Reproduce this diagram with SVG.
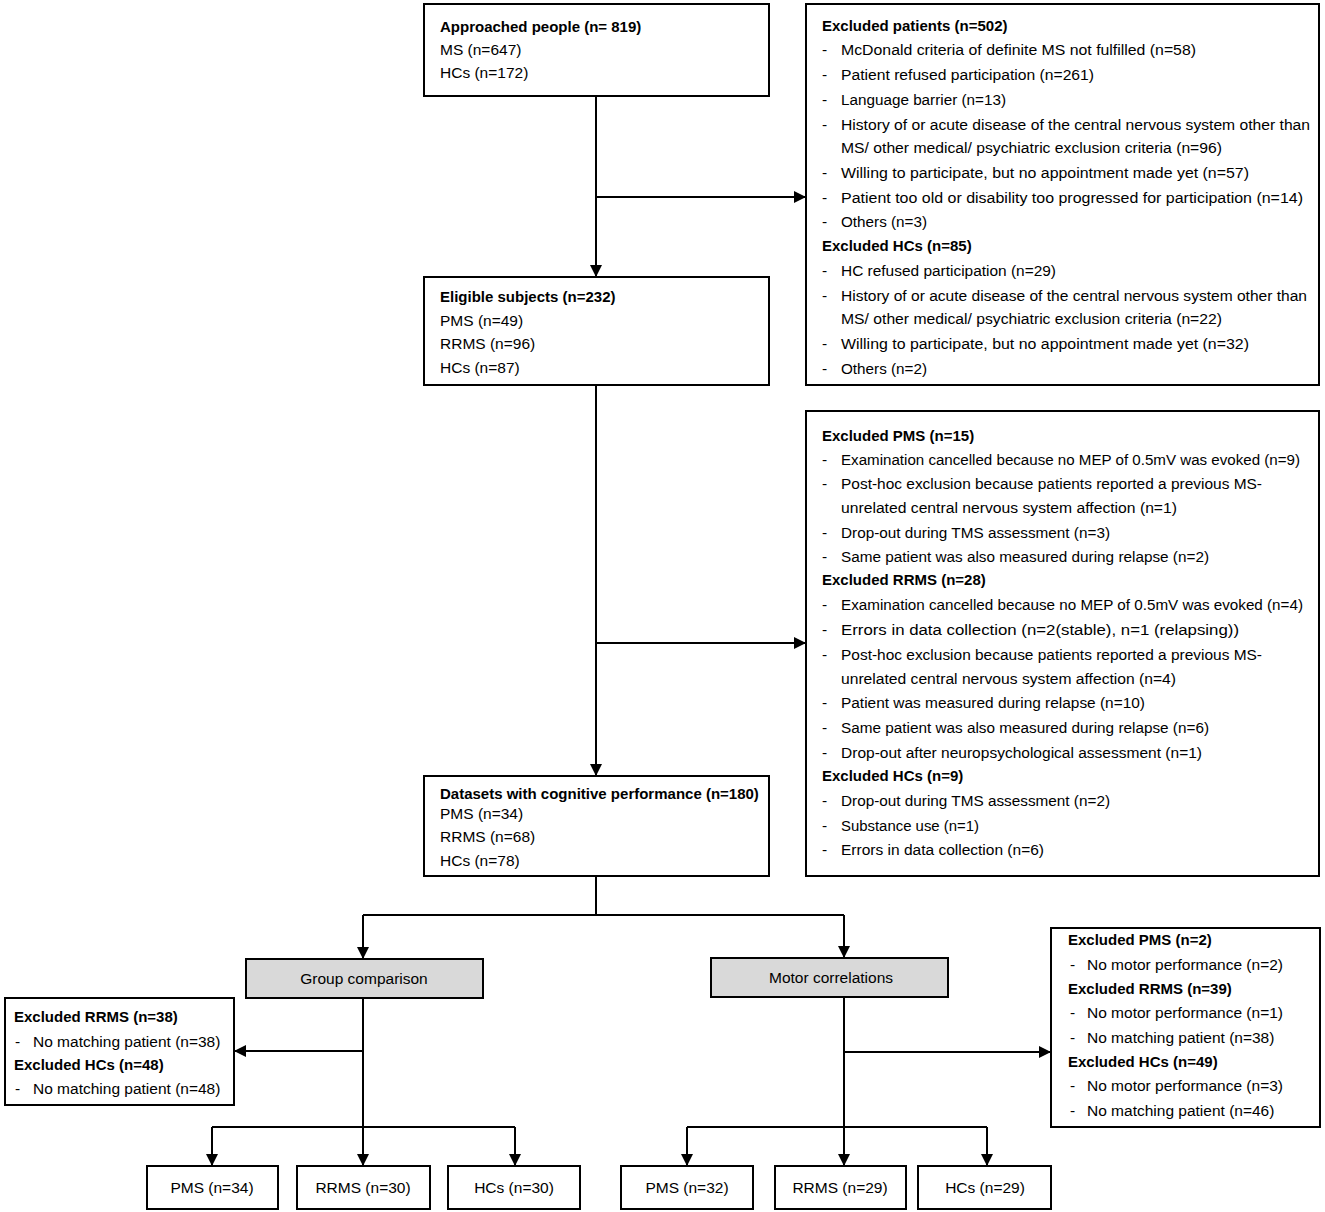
<svg xmlns="http://www.w3.org/2000/svg" width="1325" height="1212" viewBox="0 0 1325 1212">
<defs>
<marker id="ah" markerWidth="12" markerHeight="12" refX="11" refY="6" orient="auto" markerUnits="userSpaceOnUse">
<path d="M0,0 L12,6 L0,12 Z" fill="#000"/>
</marker>
<style>
.box{fill:#fff;stroke:#000;stroke-width:2}
.gbox{fill:#d9d9d9;stroke:#000;stroke-width:2}
.ln{fill:none;stroke:#000;stroke-width:2}
text{font-family:"Liberation Sans",Arial,sans-serif;font-size:15.5px;fill:#000}
.b{font-weight:bold;font-size:15px}
.c{text-anchor:middle}
</style>
</defs>
<rect width="1325" height="1212" fill="#fff"/>

<g id="connectors">
<path class="ln" d="M596,96 V276" marker-end="url(#ah)"/>
<path class="ln" d="M596,197 H805" marker-end="url(#ah)"/>
<path class="ln" d="M596,385 V775" marker-end="url(#ah)"/>
<path class="ln" d="M596,643 H805" marker-end="url(#ah)"/>
<path class="ln" d="M596,876 V915"/>
<path class="ln" d="M363,915 H844"/>
<path class="ln" d="M363,915 V958" marker-end="url(#ah)"/>
<path class="ln" d="M844,915 V957" marker-end="url(#ah)"/>
<path class="ln" d="M363,998 V1165" marker-end="url(#ah)"/>
<path class="ln" d="M363,1051 H235" marker-end="url(#ah)"/>
<path class="ln" d="M212,1127 H515"/>
<path class="ln" d="M212,1127 V1165" marker-end="url(#ah)"/>
<path class="ln" d="M515,1127 V1165" marker-end="url(#ah)"/>
<path class="ln" d="M844,997 V1165" marker-end="url(#ah)"/>
<path class="ln" d="M844,1052 H1050" marker-end="url(#ah)"/>
<path class="ln" d="M687,1127 H987"/>
<path class="ln" d="M687,1127 V1165" marker-end="url(#ah)"/>
<path class="ln" d="M987,1127 V1165" marker-end="url(#ah)"/>
</g>

<g id="approached">
<rect class="box" x="424" y="4" width="345" height="92"/>
<text class="b" x="440" y="32">Approached people (n= 819)</text>
<text x="440" y="55">MS (n=647)</text>
<text x="440" y="78">HCs (n=172)</text>
</g>

<g id="excluded-1">
<rect class="box" x="806" y="4" width="513" height="381"/>
<text class="b" x="822" y="31">Excluded patients (n=502)</text>
<text x="822" y="55">-</text><text x="841" y="55" textLength="355" lengthAdjust="spacingAndGlyphs">McDonald criteria of definite MS not fulfilled (n=58)</text>
<text x="822" y="80">-</text><text x="841" y="80" textLength="253" lengthAdjust="spacingAndGlyphs">Patient refused participation (n=261)</text>
<text x="822" y="105">-</text><text x="841" y="105" textLength="165" lengthAdjust="spacingAndGlyphs">Language barrier (n=13)</text>
<text x="822" y="130">-</text><text x="841" y="130" textLength="469" lengthAdjust="spacingAndGlyphs">History of or acute disease of the central nervous system  other than</text>
<text x="841" y="153" textLength="381" lengthAdjust="spacingAndGlyphs">MS/ other medical/ psychiatric exclusion  criteria (n=96)</text>
<text x="822" y="178">-</text><text x="841" y="178" textLength="408" lengthAdjust="spacingAndGlyphs">Willing to participate, but no appointment made yet (n=57)</text>
<text x="822" y="203">-</text><text x="841" y="203" textLength="462" lengthAdjust="spacingAndGlyphs">Patient too old or disability too progressed for participation  (n=14)</text>
<text x="822" y="227">-</text><text x="841" y="227" textLength="86" lengthAdjust="spacingAndGlyphs">Others (n=3)</text>
<text class="b" x="822" y="251">Excluded HCs (n=85)</text>
<text x="822" y="276">-</text><text x="841" y="276" textLength="215" lengthAdjust="spacingAndGlyphs">HC refused participation (n=29)</text>
<text x="822" y="301">-</text><text x="841" y="301" textLength="466" lengthAdjust="spacingAndGlyphs">History of or acute disease of the central nervous system other than</text>
<text x="841" y="324" textLength="381" lengthAdjust="spacingAndGlyphs">MS/ other medical/ psychiatric exclusion criteria (n=22)</text>
<text x="822" y="349">-</text><text x="841" y="349" textLength="408" lengthAdjust="spacingAndGlyphs">Willing to participate, but no appointment made yet (n=32)</text>
<text x="822" y="374">-</text><text x="841" y="374" textLength="86" lengthAdjust="spacingAndGlyphs">Others (n=2)</text>
</g>

<g id="eligible">
<rect class="box" x="424" y="277" width="345" height="108"/>
<text class="b" x="440" y="302">Eligible subjects (n=232)</text>
<text x="440" y="326">PMS (n=49)</text>
<text x="440" y="349">RRMS (n=96)</text>
<text x="440" y="373">HCs (n=87)</text>
</g>

<g id="excluded-2">
<rect class="box" x="806" y="411" width="513" height="465"/>
<text class="b" x="822" y="441">Excluded PMS (n=15)</text>
<text x="822" y="465">-</text><text x="841" y="465" textLength="459" lengthAdjust="spacingAndGlyphs">Examination cancelled because no MEP of 0.5mV was evoked (n=9)</text>
<text x="822" y="489">-</text><text x="841" y="489" textLength="421" lengthAdjust="spacingAndGlyphs">Post-hoc exclusion because patients reported a previous MS-</text>
<text x="841" y="513" textLength="336" lengthAdjust="spacingAndGlyphs">unrelated central nervous system affection (n=1)</text>
<text x="822" y="538">-</text><text x="841" y="538" textLength="269" lengthAdjust="spacingAndGlyphs">Drop-out during TMS assessment (n=3)</text>
<text x="822" y="562">-</text><text x="841" y="562" textLength="368" lengthAdjust="spacingAndGlyphs">Same patient was also measured during relapse (n=2)</text>
<text class="b" x="822" y="585">Excluded RRMS (n=28)</text>
<text x="822" y="610">-</text><text x="841" y="610" textLength="462" lengthAdjust="spacingAndGlyphs">Examination cancelled because no MEP of 0.5mV was evoked (n=4)</text>
<text x="822" y="635">-</text><text x="841" y="635" textLength="398" lengthAdjust="spacingAndGlyphs">Errors in data collection (n=2(stable), n=1 (relapsing))</text>
<text x="822" y="660">-</text><text x="841" y="660" textLength="421" lengthAdjust="spacingAndGlyphs">Post-hoc exclusion because patients reported a previous MS-</text>
<text x="841" y="684" textLength="335" lengthAdjust="spacingAndGlyphs">unrelated central nervous system affection (n=4)</text>
<text x="822" y="708">-</text><text x="841" y="708" textLength="304" lengthAdjust="spacingAndGlyphs">Patient was measured during relapse (n=10)</text>
<text x="822" y="733">-</text><text x="841" y="733" textLength="368" lengthAdjust="spacingAndGlyphs">Same patient was also measured during relapse (n=6)</text>
<text x="822" y="758">-</text><text x="841" y="758" textLength="361" lengthAdjust="spacingAndGlyphs">Drop-out after neuropsychological assessment (n=1)</text>
<text class="b" x="822" y="781">Excluded HCs (n=9)</text>
<text x="822" y="806">-</text><text x="841" y="806" textLength="269" lengthAdjust="spacingAndGlyphs">Drop-out during TMS assessment (n=2)</text>
<text x="822" y="831">-</text><text x="841" y="831" textLength="138" lengthAdjust="spacingAndGlyphs">Substance use (n=1)</text>
<text x="822" y="855">-</text><text x="841" y="855" textLength="203" lengthAdjust="spacingAndGlyphs">Errors in data collection (n=6)</text>
</g>

<g id="datasets">
<rect class="box" x="424" y="776" width="345" height="100"/>
<text class="b" x="440" y="799">Datasets with cognitive performance (n=180)</text>
<text x="440" y="819">PMS (n=34)</text>
<text x="440" y="842">RRMS (n=68)</text>
<text x="440" y="866">HCs (n=78)</text>
</g>

<g id="group-comparison">
<rect class="gbox" x="246" y="959" width="237" height="39"/>
<text class="c" x="364" y="984">Group comparison</text>
</g>

<g id="motor-correlations">
<rect class="gbox" x="711" y="958" width="237" height="39"/>
<text class="c" x="831" y="983">Motor correlations</text>
</g>

<g id="excluded-3">
<rect class="box" x="5" y="998" width="229" height="107"/>
<text class="b" x="14" y="1022">Excluded RRMS (n=38)</text>
<text x="15" y="1047">-</text><text x="33" y="1047">No matching patient (n=38)</text>
<text class="b" x="14" y="1070">Excluded HCs (n=48)</text>
<text x="15" y="1094">-</text><text x="33" y="1094">No matching patient (n=48)</text>
</g>

<g id="excluded-4">
<rect class="box" x="1051" y="928" width="269" height="199"/>
<text class="b" x="1068" y="945">Excluded PMS (n=2)</text>
<text x="1070" y="970">-</text><text x="1087" y="970">No motor performance (n=2)</text>
<text class="b" x="1068" y="994">Excluded RRMS (n=39)</text>
<text x="1070" y="1018">-</text><text x="1087" y="1018">No motor performance (n=1)</text>
<text x="1070" y="1043">-</text><text x="1087" y="1043">No matching patient (n=38)</text>
<text class="b" x="1068" y="1067">Excluded HCs (n=49)</text>
<text x="1070" y="1091">-</text><text x="1087" y="1091">No motor performance (n=3)</text>
<text x="1070" y="1116">-</text><text x="1087" y="1116">No matching patient (n=46)</text>
</g>

<g id="gc-pms"><rect class="box" x="147" y="1166" width="131" height="43"/><text class="c" x="212" y="1193">PMS (n=34)</text></g>
<g id="gc-rrms"><rect class="box" x="297" y="1166" width="133" height="43"/><text class="c" x="363" y="1193">RRMS (n=30)</text></g>
<g id="gc-hcs"><rect class="box" x="448" y="1166" width="132" height="43"/><text class="c" x="514" y="1193">HCs (n=30)</text></g>
<g id="mc-pms"><rect class="box" x="621" y="1166" width="132" height="43"/><text class="c" x="687" y="1193">PMS (n=32)</text></g>
<g id="mc-rrms"><rect class="box" x="775" y="1166" width="131" height="43"/><text class="c" x="840" y="1193">RRMS (n=29)</text></g>
<g id="mc-hcs"><rect class="box" x="918" y="1166" width="133" height="43"/><text class="c" x="985" y="1193">HCs (n=29)</text></g>
</svg>
